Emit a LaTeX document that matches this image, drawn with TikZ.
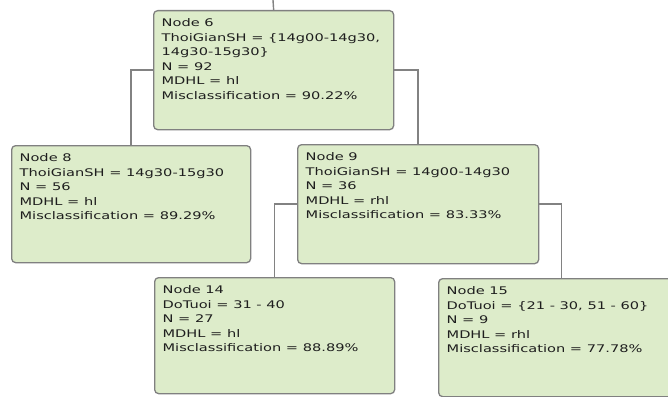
\documentclass[tikz,border=0pt]{standalone}
\usepackage{fontspec}
\newfontfamily\boxfont[FakeStretch=1.39]{DejaVu Sans}
\definecolor{boxfill}{RGB}{221,236,202}
\definecolor{boxline}{RGB}{128,128,128}
\definecolor{linkline}{RGB}{130,130,130}
\definecolor{txt}{RGB}{30,30,30}
\tikzset{
  treebox/.style={draw=boxline, line width=1.3pt, fill=boxfill, rounded corners=4pt,
    inner sep=8pt, anchor=north west, text=txt,
    font=\boxfont\fontsize{10.5pt}{14.5pt}\selectfont},
  link/.style={draw=linkline, line width=1.4pt}
}
\newcommand{\boxtext}[3]{\parbox[t][#1][t]{#2}{\fontsize{10.5pt}{14.5pt}\selectfont\raggedright #3}}
\begin{document}
\begin{tikzpicture}[x=1pt,y=-1pt]
\useasboundingbox (0,0) rectangle (668,396);
\clip (0,0) rectangle (668,396);
\fill[white] (0,0) rectangle (668,396);
\node[treebox] (n6) at (153,10) {\boxtext{103pt}{224pt}{Node 6\\ThoiGianSH = \{14g00-14g30,\\14g30-15g30\}\\N = 92\\MDHL = hl\\Misclassification = 90.22\%}};
\node[treebox] (n8) at (11,145) {\boxtext{101pt}{223pt}{Node 8\\ThoiGianSH = 14g30-15g30\\N = 56\\MDHL = hl\\Misclassification = 89.29\%}};
\node[treebox] (n9) at (297,144) {\boxtext{103pt}{225pt}{Node 9\\ThoiGianSH = 14g00-14g30\\N = 36\\MDHL = rhl\\Misclassification = 83.33\%}};
\node[treebox] (n14) at (154,277) {\boxtext{100pt}{224pt}{Node 14\\DoTuoi = 31 - 40\\N = 27\\MDHL = hl\\Misclassification = 88.89\%}};
\node[treebox] (n15) at (438,278) {\boxtext{102pt}{230pt}{Node 15\\DoTuoi = \{21 - 30, 51 - 60\}\\N = 9\\MDHL = rhl\\Misclassification = 77.78\%}};
\coordinate (top) at (273,0);
\draw[link] (top) -- (n6.north);
\draw[link] (n6.west) -| (n8.north);
\draw[link] (n6.east) -| (n9.north);
\draw[link] (n9.west) -| (n14.north);
\draw[link] (n9.east) -| (n15.north);
\end{tikzpicture}
\end{document}
